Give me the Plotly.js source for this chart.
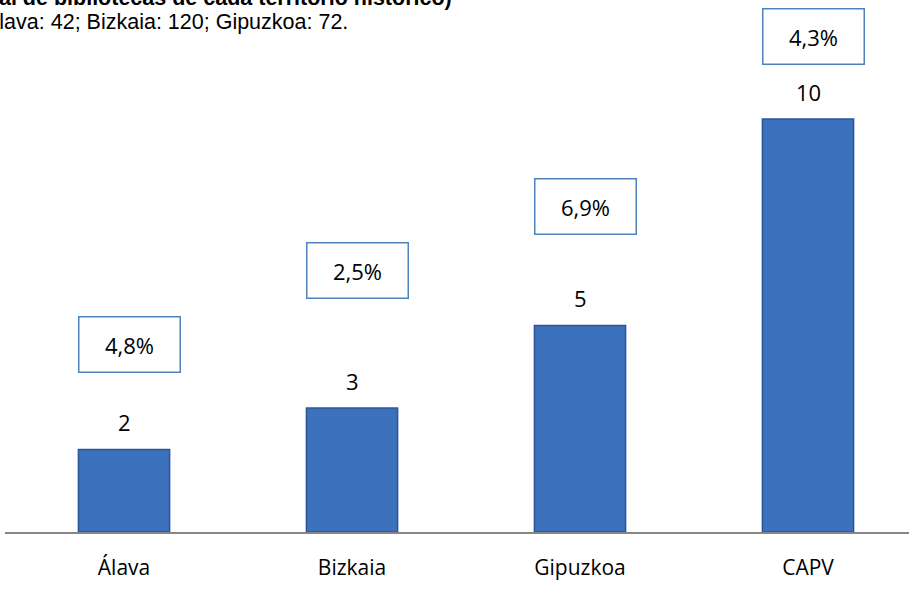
<!DOCTYPE html>
<html>
<head>
<meta charset="utf-8">
<script src="https://cdn.plot.ly/plotly-3.0.1.min.js"></script>
<style>
  html, body { margin: 0; padding: 0; background: #fff; }
  #plot { width: 909px; height: 591px; }
</style>
</head>
<body>
<div id="plot"></div>
<script>
// datos
var territorios = ['Álava', 'Bizkaia', 'Gipuzkoa', 'CAPV'];
var bibliotecas = [2, 3, 5, 10];
var porcentajes = ['4,8%', '2,5%', '6,9%', '4,3%'];

// posición vertical de las cajas de porcentaje (unidades del eje y)
var cajaY = [4.53, 6.32, 7.89, 11.99];

var W = 909, H = 591;
var margin = {l: 5, r: 0, t: 0, b: 59};
var fuente = 'Open Sans, sans-serif';

function px(x) { return (x - margin.l) / (W - margin.l - margin.r); }
function py(y) { return 1 - (y - margin.t) / (H - margin.t - margin.b); }

var trace = {
    x: territorios,
    y: bibliotecas,
    type: 'bar',
    width: 0.4,
    marker: {
        color: '#3C71BD',
        line: {color: '#2B5797', width: 1.5}
    },
    hoverinfo: 'none'
};

var annotations = [];

// etiquetas de valor sobre las barras
bibliotecas.forEach(function(v, i) {
    annotations.push({
        x: territorios[i], y: v,
        xref: 'x', yref: 'y',
        yanchor: 'bottom',
        yshift: 10,
        text: String(v),
        showarrow: false,
        font: {family: fuente, size: 22, color: '#000'}
    });
});

// cajas de porcentaje
porcentajes.forEach(function(p, i) {
    annotations.push({
        x: territorios[i], y: cajaY[i],
        xref: 'x', yref: 'y',
        xshift: 5,
        text: p,
        showarrow: false,
        font: {family: fuente, size: 22, color: '#000'},
        bordercolor: '#4F81BD',
        borderwidth: 1.5,
        borderpad: 12,
        bgcolor: '#fff',
        width: 76
    });
});

annotations.push({
    xref: 'paper', yref: 'paper',
    x: px(454), y: py(-2),
    xanchor: 'right', yanchor: 'middle',
    text: '<b>(Porcentaje sobre el total de bibliotecas de cada territorio histórico)</b>',
    showarrow: false,
    font: {family: 'Liberation Sans, Arial, sans-serif', size: 21.5, color: '#000'}
});
annotations.push({
    xref: 'paper', yref: 'paper',
    x: px(350), y: py(22),
    xanchor: 'right', yanchor: 'middle',
    text: 'Álava: 42; Bizkaia: 120; Gipuzkoa: 72.',
    showarrow: false,
    font: {family: 'Liberation Sans, Arial, sans-serif', size: 21.5, color: '#000'}
});

var layout = {
    width: W,
    height: H,
    margin: margin,
    paper_bgcolor: '#fff',
    plot_bgcolor: '#fff',
    showlegend: false,
    xaxis: {
        type: 'category',
        range: [-0.522, 3.443],
        showline: true,
        linecolor: '#868686',
        linewidth: 2,
        showgrid: false,
        zeroline: false,
        ticks: 'outside',
        ticklen: 16,
        tickcolor: 'rgba(0,0,0,0)',
        tickfont: {family: fuente, size: 21, color: '#000'}
    },
    yaxis: {
        range: [0, 12.88],
        visible: false,
        showgrid: false,
        zeroline: false
    },
    annotations: annotations
};

Plotly.newPlot('plot', [trace], layout, {staticPlot: true});
</script>
</body>
</html>
